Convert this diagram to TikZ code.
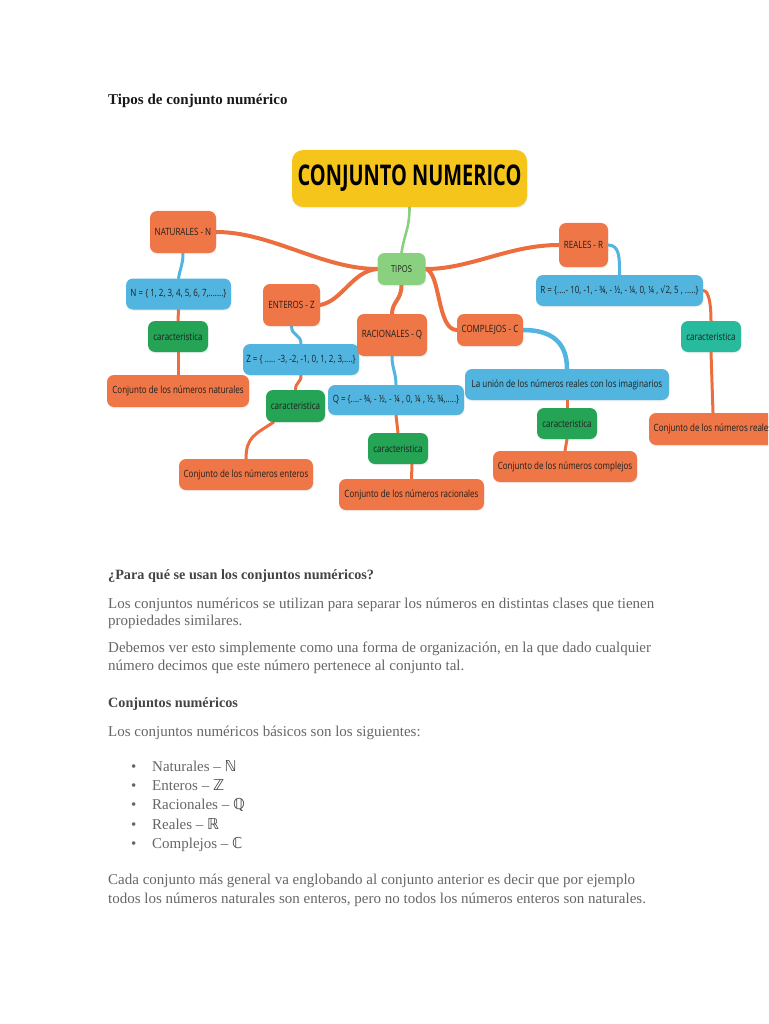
\documentclass[tikz,border=0pt]{standalone}
\usepackage{fontspec}
\setmainfont{Liberation Serif}
\newfontfamily\mapfont[FakeStretch=0.8]{Open Sans}
\newfontfamily\titlefont[FakeStretch=0.7]{Open Sans}
\newfontfamily\symfont[FakeStretch=0.8]{DejaVu Sans}
\newfontfamily\dsfont{DejaVu Sans}
\usetikzlibrary{backgrounds,shadows}
\definecolor{mOrange}{HTML}{EF7646}
\definecolor{mOrangeL}{HTML}{EC6E3E}
\definecolor{mBlue}{HTML}{52B5E0}
\definecolor{mGreen}{HTML}{24A454}
\definecolor{mTeal}{HTML}{27BA9C}
\definecolor{mLight}{HTML}{8AD17F}
\definecolor{mYellow}{HTML}{F6C51B}
\definecolor{bodygray}{HTML}{666666}
\definecolor{headgray}{HTML}{444444}
\newcommand{\setsym}[1]{{\color{headgray}\dsfont #1}}
\begin{document}
\begin{tikzpicture}[x=1pt,y=-1pt,
  box/.style={rounded corners=7pt, inner sep=2pt, align=center,
    font=\mapfont\fontsize{10}{12}\selectfont, text=black!88,
    drop shadow={opacity=0.12, shadow xshift=0.6pt, shadow yshift=-1.4pt}},
  obox/.style={box, fill=mOrange},
  bbox/.style={box, fill=mBlue},
  gbox/.style={box, fill=mGreen},
  tbox/.style={box, fill=mTeal},
  lbox/.style={box, fill=mLight},
  oline/.style={draw=mOrangeL, line width=4pt, line cap=round},
  oline2/.style={draw=mOrangeL, line width=3pt, line cap=round},
  bline/.style={draw=mBlue, line width=3pt, line cap=round},
  gline/.style={draw=mLight, line width=2.6pt, line cap=round},
  bodytext/.style={anchor=base west, inner sep=0pt, text=bodygray,
    font=\fontsize{15}{18}\selectfont},
  headtext/.style={anchor=base west, inner sep=0pt, text=headgray,
    font=\bfseries\fontsize{14.2}{17}\selectfont}
]
\useasboundingbox (0,0) rectangle (768,1024);
\clip (0,0) rectangle (768,1024);

% heading
\node[anchor=base west, inner sep=0pt, text=black!90, font=\bfseries\fontsize{15}{18}\selectfont] (head) at (108,105) {Tipos de conjunto numérico};

% mind map nodes
\node[box, fill=mYellow, rounded corners=11pt, minimum width=235pt, minimum height=57pt,
  font=\titlefont\bfseries\fontsize{28.5}{30}\selectfont, text=black] (title) at (409.5,178.5) {CONJUNTO NUMERICO};
\node[lbox, minimum width=48pt, minimum height=32pt, font=\mapfont\fontsize{9.5}{11}\selectfont] (tipos) at (401.5,269) {TIPOS};

\node[obox, minimum width=66pt, minimum height=42pt] (nat) at (183,232) {NATURALES - N};
\node[bbox, minimum width=105pt, minimum height=31pt] (nset) at (178.5,294) {N = \{ 1, 2, 3, 4, 5, 6, 7,.......\}};
\node[gbox, minimum width=60pt, minimum height=31pt] (ncar) at (178,336.5) {caracteristica};
\node[obox, minimum width=142pt, minimum height=32pt] (nconj) at (178,391) {Conjunto de los números naturales};

\node[obox, minimum width=57pt, minimum height=42pt] (ent) at (291.5,305) {ENTEROS - Z};
\node[bbox, minimum width=116pt, minimum height=31pt] (zset) at (301,359.5) {Z = \{ ..... -3, -2, -1, 0, 1, 2, 3,....\}};
\node[gbox, minimum width=59pt, minimum height=32pt] (zcar) at (295.5,406) {caracteristica};
\node[obox, minimum width=134pt, minimum height=31pt] (zconj) at (246,474.5) {Conjunto de los números enteros};

\node[obox, minimum width=70pt, minimum height=42pt] (rac) at (392,335) {RACIONALES - Q};
\node[bbox, minimum width=136pt, minimum height=30pt] (qset) at (396,400) {Q = \{....- ¾, - ½, - ¼ , 0, ¼ , ½, ¾,.....\}};
\node[gbox, minimum width=60pt, minimum height=31pt] (qcar) at (398,448.5) {caracteristica};
\node[obox, minimum width=145pt, minimum height=31pt] (qconj) at (411.5,494.5) {Conjunto de los números racionales};

\node[obox, minimum width=66pt, minimum height=32pt] (comp) at (490,330) {COMPLEJOS - C};
\node[bbox, minimum width=204pt, minimum height=31pt] (union) at (567,384.5) {La unión de los números reales con los imaginarios};
\node[gbox, minimum width=60pt, minimum height=31pt] (ccar) at (567,423.5) {caracteristica};
\node[obox, minimum width=144pt, minimum height=31pt] (cconj) at (565,466.5) {Conjunto de los números complejos};

\node[obox, minimum width=49pt, minimum height=44pt] (rea) at (583.5,245) {REALES - R};
\node[bbox, minimum width=167pt, minimum height=31pt] (rset) at (619.5,290.5) {R = \{....- 10, -1, - ¾, - ½, - ¼, 0, ¼ , {\symfont √}2, 5 , .....\}};
\node[tbox, minimum width=60pt, minimum height=31pt] (rcar) at (711,336.5) {caracteristica};
\node[obox, minimum width=128pt, minimum height=32pt] (rconj) at (713,429) {Conjunto de los números reales};

% connectors
\begin{pgfonlayer}{background}
\draw[gline] (title.south) .. controls +(0,22) and +(3,-20) .. (tipos.north);
\draw[oline] (tipos.west) .. controls +(-55,0) and +(55,0) .. (nat.east);
\draw[oline] (tipos.west) .. controls +(-25,2) and +(22,-4) .. (ent.east);
\draw[oline] (tipos.south) .. controls +(0,15) and +(0,-12) .. (rac.north);
\draw[oline] (tipos.east) .. controls +(45,0) and +(-50,0) .. (rea.west);
\draw[oline] (tipos.east) .. controls +(15,3) and +(-20,0) .. (comp.west);

\draw[bline] (nat.south) .. controls +(0,12) and +(2,-12) .. (nset.north);
\draw[oline2] (nset.south) -- (ncar.north);
\draw[oline2] (ncar.south) -- (nconj.north);

\draw[bline] (ent.south) .. controls +(0,10) and +(0,-10) .. (zset.north);
\draw[oline2] (zset.south) .. controls +(0,8) and +(0,-8) .. (zcar.north);
\draw[oline2] ([xshift=-22pt]zcar.south) .. controls +(-18,12) and +(0,-22) .. (zconj.north);

\draw[bline] (rac.south) .. controls +(0,12) and +(0,-12) .. (qset.north);
\draw[oline2] (qset.south) -- (qcar.north);
\draw[oline2] ([xshift=14pt]qcar.south) -- (qconj.north);

\draw[bline, line width=4.5pt] (comp.east) .. controls +(30,0) and +(0,-25) .. (union.north);
\draw[oline2] (union.south) -- (ccar.north);
\draw[oline2] (ccar.south) -- (cconj.north);

\draw[bline] (rea.east) .. controls +(12,0) and +(0,-15) .. (rset.north);
\draw[oline2] (rset.east) .. controls +(6,0) and +(0,-15) .. (rcar.north);
\draw[oline2] (rcar.south) -- (rconj.north);
\end{pgfonlayer}

% body text
\node[headtext] (q1) at (108,579) {¿Para qué se usan los conjuntos numéricos?};
\node[bodytext] (p1a) at (108,608) {Los conjuntos numéricos se utilizan para separar los números en distintas clases que tienen};
\node[bodytext] (p1b) at (108,625) {propiedades similares.};
\node[bodytext] (p2a) at (108,652) {Debemos ver esto simplemente como una forma de organización, en la que dado cualquier};
\node[bodytext] (p2b) at (108,670) {número decimos que este número pertenece al conjunto tal.};
\node[headtext] (h2) at (108,707) {Conjuntos numéricos};
\node[bodytext] (p3) at (108,736) {Los conjuntos numéricos básicos son los siguientes:};
\node[bodytext] (b1) at (131,771) {\makebox[21pt][l]{•}Naturales – \setsym{ℕ}};
\node[bodytext] (b2) at (131,790) {\makebox[21pt][l]{•}Enteros – \setsym{ℤ}};
\node[bodytext] (b3) at (131,809) {\makebox[21pt][l]{•}Racionales – \setsym{ℚ}};
\node[bodytext] (b4) at (131,829) {\makebox[21pt][l]{•}Reales – \setsym{ℝ}};
\node[bodytext] (b5) at (131,848) {\makebox[21pt][l]{•}Complejos – \setsym{ℂ}};
\node[bodytext] (p4a) at (108,884) {Cada conjunto más general va englobando al conjunto anterior es decir que por ejemplo};
\node[bodytext] (p4b) at (108,903) {todos los números naturales son enteros, pero no todos los números enteros son naturales.};
\end{tikzpicture}
\end{document}
